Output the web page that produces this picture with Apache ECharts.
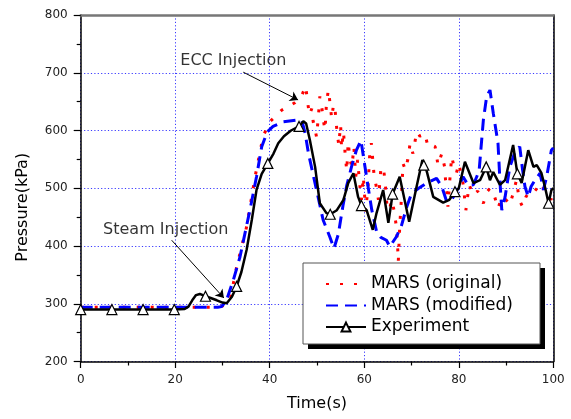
<!DOCTYPE html>
<html>
<head>
<meta charset="utf-8">
<script src="https://cdn.jsdelivr.net/npm/echarts@6/dist/echarts.min.js"></script>
<style>
  html, body { margin: 0; padding: 0; background: #fff; }
  #chart { width: 571px; height: 419px; }
</style>
</head>
<body>
<div id="chart"></div>
<script>
// Pressure histories: two MARS code runs against the measured experiment
const marsOrigTime = [0, 29, 30, 31.6, 33, 35.1, 36.9, 38.6, 40, 42.5, 45.3, 46.8, 47.6, 48.0, 48.4, 48.9, 49.2, 49.6, 49.9, 50.3, 50.6, 51.0, 51.4, 51.7, 52.0, 52.4, 52.8, 53.1, 53.5, 53.8, 54.2, 54.6, 55.0, 55.2, 55.6, 56.0, 56.3, 56.6, 57.0, 57.4, 57.8, 58.2, 58.6, 59.0, 59.4, 59.8, 60.3, 60.8, 61.2, 61.5, 61.8, 62.1, 62.5, 63.0, 63.5, 64.0, 64.4, 64.8, 65.3, 65.8, 66.3, 66.7, 67.0, 67.2, 67.5, 67.8, 68.2, 68.7, 69.2, 69.7, 70.3, 71.1, 71.8, 72.8, 73.5, 74.2, 75.0, 75.6, 76.4, 77.0, 77.2, 77.5, 77.7, 78.1, 78.5, 79.0, 79.5, 80.0, 80.9, 81.5, 82.2, 83.1, 84.0, 85.2, 86.1, 86.6, 87.6, 88.3, 89.1, 90.0, 90.8, 91.5, 92.2, 92.8, 93.5, 94.2, 95.1, 96.0, 96.8, 97.5, 98.2, 98.9, 99.5, 100];
const marsOrigValue = [294, 294, 296, 306, 364, 433, 520, 590, 615, 635, 648, 661, 677, 650, 627, 638, 615, 601, 589, 625, 659, 641, 615, 601, 647, 670, 645, 621, 645, 638, 601, 575, 610, 569, 598, 555, 530, 580, 549, 537, 572, 520, 549, 510, 480, 520, 460, 503, 566, 578, 549, 520, 505, 480, 532, 537, 514, 470, 462, 480, 462, 439, 410, 373, 433, 474, 543, 532, 549, 578, 560, 598, 590, 595, 572, 575, 572, 540, 560, 537, 514, 491, 468, 514, 555, 537, 526, 543, 509, 462, 506, 488, 495, 474, 495, 500, 485, 465, 485, 480, 471, 491, 514, 480, 468, 485, 497, 500, 495, 506, 495, 488, 480, 495];

const marsModTime = [0, 29, 29.8, 30.8, 32.3, 33.7, 35.8, 37.2, 38.3, 39.5, 40.7, 42.9, 45.7, 46.8, 47.5, 48.2, 49.9, 51.3, 52.7, 53.6, 54.5, 55.5, 56.3, 57.3, 58.3, 59.3, 60.1, 60.8, 61.6, 62.6, 63.5, 64.7, 65.4, 66.8, 67.9, 69.0, 70.0, 71.5, 73.2, 75.3, 76.4, 77.4, 78.5, 79.5, 80.9, 82.0, 83.1, 84.3, 85.2, 85.9, 86.6, 87.3, 88.3, 88.7, 89.1, 89.8, 90.8, 91.9, 92.9, 93.5, 94.0, 94.7, 95.3, 96.2, 97.2, 97.9, 98.6, 99.6, 100];
const marsModValue = [294, 294, 295, 305, 341, 381, 462, 520, 572, 598, 607, 615, 618, 617, 595, 560, 497, 445, 416, 396, 420, 470, 505, 537, 565, 583, 540, 503, 462, 425, 415, 410, 399, 416, 436, 468, 491, 500, 509, 517, 503, 478, 480, 494, 520, 505, 506, 530, 618, 659, 670, 630, 578, 514, 462, 485, 537, 563, 572, 532, 503, 485, 503, 515, 526, 497, 520, 566, 570];

const expTime = [0, 6.6, 13.2, 19.8, 22, 22.8, 23.6, 24.4, 25.2, 26.4, 27.5, 28.8, 30, 30.9, 32, 33, 34, 35.1, 36.2, 37.2, 38.3, 39.6, 40.8, 41.8, 43, 44.5, 46.2, 47.1, 47.7, 48.5, 49.6, 50.6, 52, 52.8, 54.2, 55.6, 56.6, 57.7, 58.7, 59.4, 60.5, 61.8, 62.6, 64, 65.1, 66, 67.5, 69.5, 71, 72.3, 72.6, 73.2, 74.6, 76.7, 78, 79.2, 80, 81.3, 83.1, 84.5, 85.8, 86.6, 87.3, 88.7, 89.8, 91.5, 92.4, 93.3, 94.7, 95.8, 96.5, 97.5, 98.3, 99, 99.6, 100];
const expValue = [290, 290, 290, 290, 291, 295, 306, 315, 317, 313, 310, 306, 302, 301, 312, 330, 355, 393, 445, 497, 525, 543, 560, 578, 590, 600, 607, 616, 612, 583, 537, 474, 457, 455, 462, 480, 509, 526, 485, 470, 462, 428, 457, 497, 440, 490, 520, 442, 500, 549, 540, 530, 485, 475, 480, 494, 500, 546, 509, 514, 537, 514, 528, 506, 514, 575, 525, 509, 566, 537, 540, 526, 500, 474, 497, 500];
// times at which the experiment curve carries a triangle marker
const expMarkerTimes = [0, 6.6, 13.2, 19.8, 26.4, 33, 39.6, 46.2, 52.8, 59.4, 66, 72.6, 79.2, 85.8, 92.4, 99];

const xTicks = { min: 0, max: 100, interval: 20 };
const yTicks = { min: 200, max: 800, interval: 100 };

// annotations: [label, label position, arrow tail, arrow head] in data units
const notes = [
  ['ECC Injection', [32.3, 720], [34.4, 701], [46.0, 653]],
  ['Steam Injection', [18.0, 428], [19.25, 410], [30.3, 310]]
];

const seriesNames = ['MARS (original)', 'MARS (modified)', 'Experiment'];

const zip = (t, v) => t.map((x, i) => [x, v[i]]);

const expData = expTime.map((t, i) => {
  const item = { value: [t, expValue[i]] };
  if (!expMarkerTimes.includes(t)) item.symbol = 'none';
  return item;
});

const font = 'DejaVu Sans';
const gridBlue = '#3a3aff';

// legend frame with a hard drop shadow
const legendBox = { left: 303, top: 263, width: 237, height: 81, shadow: 5 };

const chart = echarts.init(document.getElementById('chart'), null, { renderer: 'canvas' });

chart.setOption({
  animation: false,
  backgroundColor: '#fff',
  grid: { left: 80.7, right: 17.7, top: 15, bottom: 57.5, containLabel: false },
  graphic: [
    {
      type: 'rect', z: 20, silent: true,
      shape: { x: legendBox.left + legendBox.shadow, y: legendBox.top + legendBox.shadow, width: legendBox.width, height: legendBox.height },
      style: { fill: '#000' }
    },
    {
      type: 'rect', z: 21, silent: true,
      shape: { x: legendBox.left, y: legendBox.top, width: legendBox.width, height: legendBox.height },
      style: { fill: '#fff', stroke: '#555', lineWidth: 1 }
    }
  ],
  xAxis: [{
    type: 'value', min: xTicks.min, max: xTicks.max, interval: xTicks.interval,
    name: 'Time(s)', nameLocation: 'middle', nameGap: 34,
    nameTextStyle: { fontFamily: font, fontSize: 16, color: '#000' },
    axisLine: { show: true, onZero: false, lineStyle: { color: '#000', width: 1.5 } },
    axisTick: { show: true, inside: false, length: 6.5, lineStyle: { color: '#000', width: 1.2 } },
    minorTick: { show: true, splitNumber: 2, length: 4, lineStyle: { color: '#000', width: 1.2 } },
    axisLabel: { fontFamily: font, fontSize: 12, color: '#222', margin: 12 },
    splitLine: { show: true, lineStyle: { color: gridBlue, width: 1, type: [1.2, 2.2] } }
  }, {
    type: 'value', position: 'top', min: xTicks.min, max: xTicks.max,
    axisLine: { show: true, onZero: false, lineStyle: { color: '#777', width: 2.5 } },
    axisTick: { show: false }, axisLabel: { show: false }, splitLine: { show: false }
  }],
  yAxis: [{
    type: 'value', min: yTicks.min, max: yTicks.max, interval: yTicks.interval,
    name: 'Pressure(kPa)', nameLocation: 'middle', nameGap: 50,
    nameTextStyle: { fontFamily: font, fontSize: 16, color: '#000', padding: [0, 38, 0, 0] },
    axisLine: { show: true, onZero: false, lineStyle: { color: '#000', width: 1.5 } },
    axisTick: { show: true, inside: false, length: 7, lineStyle: { color: '#000', width: 1.2 } },
    minorTick: { show: true, splitNumber: 2, length: 4, lineStyle: { color: '#000', width: 1.2 } },
    axisLabel: { fontFamily: font, fontSize: 12, color: '#222', margin: 13 },
    splitLine: { show: true, lineStyle: { color: gridBlue, width: 1, type: [1.2, 2.2] } }
  }, {
    type: 'value', position: 'right', min: yTicks.min, max: yTicks.max,
    axisLine: { show: true, onZero: false, lineStyle: { color: '#000', width: 1.5 } },
    axisTick: { show: false }, axisLabel: { show: false }, splitLine: { show: false }
  }],
  legend: {
    data: [
      { name: seriesNames[0], itemStyle: { opacity: 0 } },
      { name: seriesNames[1], itemStyle: { opacity: 0 } },
      { name: seriesNames[2] }
    ],
    orient: 'vertical',
    left: legendBox.left, top: legendBox.top,
    padding: [12.5, 28, 8.5, 22],
    itemGap: 4.5, itemWidth: 40, itemHeight: 11,
    z: 30,
    textStyle: { fontFamily: font, fontSize: 17, color: '#000' }
  },
  series: [
    {
      name: seriesNames[0], type: 'line', data: zip(marsOrigTime, marsOrigValue),
      symbol: 'none', z: 3,
      lineStyle: { color: '#ff0000', width: 3, type: [3, 11], cap: 'butt' },
      itemStyle: { color: '#ff0000' }
    },
    {
      name: seriesNames[1], type: 'line', data: zip(marsModTime, marsModValue),
      symbol: 'none', z: 4,
      lineStyle: { color: '#0000ff', width: 3, type: [12, 7] },
      itemStyle: { color: '#0000ff' }
    },
    {
      name: seriesNames[2], type: 'line', data: expData,
      symbol: 'triangle', symbolSize: 10, showSymbol: true, showAllSymbol: true, clip: false, z: 5,
      lineStyle: { color: '#000', width: 2.5 },
      itemStyle: { color: '#fff', borderColor: '#000', borderWidth: 1.2 }
    },
    {
      type: 'lines', coordinateSystem: 'cartesian2d', z: 6, silent: true,
      symbol: ['none', 'arrow'], symbolSize: 8,
      lineStyle: { color: '#000', width: 1, opacity: 1 },
      data: notes.map(n => ({ coords: [n[2], n[3]] }))
    },
    {
      type: 'scatter', z: 6, silent: true, symbolSize: 0,
      data: notes.map(n => ({ name: n[0], value: n[1] })),
      label: {
        show: true, position: 'inside', formatter: '{b}',
        fontFamily: font, fontSize: 16, color: '#000'
      }
    }
  ]
});
</script>
</body>
</html>
